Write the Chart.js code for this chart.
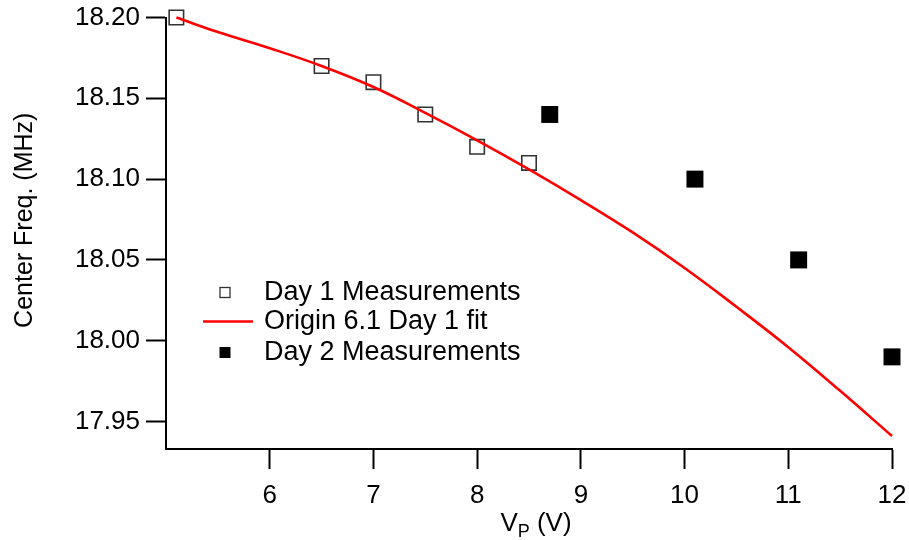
<!DOCTYPE html>
<html>
<head>
<meta charset="utf-8">
<script src="https://cdn.jsdelivr.net/npm/chart.js@4/dist/chart.umd.min.js"></script>
<style>
  html, body { margin: 0; padding: 0; background: #fff; }
  #wrap { width: 909px; height: 540px; position: relative; }
</style>
</head>
<body>
<div id="wrap"><canvas id="chart"></canvas></div>
<script>
// Day 1 measurements (open squares)
const day1X = [5.1, 6.5, 7.0, 7.5, 8.0, 8.5];
const day1Y = [18.20, 18.17, 18.16, 18.14, 18.12, 18.11];

// Day 2 measurements (filled squares)
const day2X = [8.7, 10.1, 11.1, 12.0];
const day2Y = [18.14, 18.10, 18.05, 17.99];

// Origin fit curve
const fitX = [5.1, 5.5, 6.0, 6.5, 7.0, 7.5, 8.0, 8.5, 9.0, 9.5, 10.0, 10.5, 11.0, 11.5, 12.0];
const fitY = [18.200, 18.191, 18.181, 18.170, 18.157, 18.141, 18.124, 18.106, 18.087, 18.067, 18.045, 18.021, 17.996, 17.969, 17.941];

const xTicks = [6, 7, 8, 9, 10, 11, 12];
const yTicks = [17.95, 18.00, 18.05, 18.10, 18.15, 18.20];

const yTitle = "Center Freq. (MHz)";

const FONT = '"Liberation Sans", Arial, Helvetica, sans-serif';

const toPoints = (xs, ys) => xs.map((x, i) => ({ x: x, y: ys[i] }));

// legend inside the plot, axis titles (x one has a subscript)
const extras = {
  id: "extras",
  afterDraw(chart) {
    const ctx = chart.ctx;
    const a = chart.chartArea;
    const ds = chart.data.datasets;
    ctx.save();

    // legend
    const lx = a.left + 59;
    const tx = a.left + 98;
    const rows = [a.top + 275, a.top + 304, a.top + 335];
    ctx.font = "27px " + FONT;
    ctx.fillStyle = "#000";
    ctx.textBaseline = "middle";
    ctx.textAlign = "left";

    ctx.strokeStyle = "#333";
    ctx.lineWidth = 1.3;
    ctx.strokeRect(lx - 5, rows[0] - 5, 10, 10);
    ctx.fillText(ds[1].label, tx, rows[0]);

    ctx.strokeStyle = "#ff0000";
    ctx.lineWidth = 2.5;
    ctx.beginPath();
    ctx.moveTo(lx - 22, rows[1]);
    ctx.lineTo(lx + 28, rows[1]);
    ctx.stroke();
    ctx.fillText(ds[0].label, tx, rows[1]);

    ctx.fillStyle = "#000";
    ctx.fillRect(lx - 5.5, rows[2] - 5.5, 11, 11);
    ctx.fillText(ds[2].label, tx, rows[2]);

    // y axis title
    ctx.save();
    ctx.translate(25, (a.top + a.bottom) / 2 - 13);
    ctx.rotate(-Math.PI / 2);
    ctx.textAlign = "center";
    ctx.textBaseline = "middle";
    ctx.font = "25px " + FONT;
    ctx.fillText(yTitle, 0, 0);
    ctx.restore();

    // x axis title: V_P (V)
    const cx = (a.left + a.right) / 2 + 7;
    const base = 531;
    ctx.textAlign = "left";
    ctx.textBaseline = "alphabetic";
    ctx.font = "26px " + FONT;
    const wV = ctx.measureText("V").width;
    const wRest = ctx.measureText(" (V)").width;
    ctx.font = "18px " + FONT;
    const wP = ctx.measureText("P").width;
    let x = cx - (wV + wP + wRest) / 2;
    ctx.font = "26px " + FONT;
    ctx.fillText("V", x, base);
    x += wV;
    ctx.font = "18px " + FONT;
    ctx.fillText("P", x, base + 6);
    x += wP;
    ctx.font = "26px " + FONT;
    ctx.fillText(" (V)", x, base);

    ctx.restore();
  },
};

const ctx = document.getElementById("chart").getContext("2d");

new Chart(ctx, {
  type: "scatter",
  data: {
    datasets: [
      {
        type: "line",
        label: "Origin 6.1 Day 1 fit",
        data: toPoints(fitX, fitY),
        borderColor: "#ff0000",
        borderWidth: 2.6,
        pointRadius: 0,
        fill: false,
        tension: 0.4,
        order: 0,
      },
      {
        label: "Day 1 Measurements",
        data: toPoints(day1X, day1Y),
        pointStyle: "rect",
        pointRadius: 10.2,
        pointHoverRadius: 10.2,
        borderColor: "#333",
        borderWidth: 1.6,
        backgroundColor: "rgba(0,0,0,0)",
        order: 1,
      },
      {
        label: "Day 2 Measurements",
        data: toPoints(day2X, day2Y),
        pointStyle: "rect",
        pointRadius: 12,
        pointHoverRadius: 12,
        borderWidth: 0,
        backgroundColor: "#000",
        order: 2,
      },
    ],
  },
  options: {
    responsive: true,
    maintainAspectRatio: false,
    animation: false,
    clip: false,
    layout: { padding: { left: 0, right: 17, top: 17.5, bottom: 0 } },
    plugins: {
      legend: { display: false },
      tooltip: { enabled: false },
    },
    events: [],
    scales: {
      x: {
        type: "linear",
        min: 5,
        max: 12,
        afterBuildTicks: (scale) => {
          scale.ticks = xTicks.map((v) => ({ value: v }));
        },
        afterFit: (scale) => {
          scale.height = 91;
          scale.paddingLeft = 0;
          scale.paddingRight = 0;
        },
        ticks: {
          color: "#000",
          font: { family: FONT, size: 26 },
          padding: 11,
          maxRotation: 0,
        },
        grid: {
          drawOnChartArea: false,
          tickLength: 20,
          tickWidth: 2,
          tickColor: "#000",
        },
        border: { color: "#000", width: 2 },
        title: { display: false },
      },
      y: {
        type: "linear",
        min: 17.933,
        max: 18.20,
        afterBuildTicks: (scale) => {
          scale.ticks = yTicks.map((v) => ({ value: v }));
        },
        afterFit: (scale) => {
          scale.width = 166;
          scale.paddingTop = 0;
          scale.paddingBottom = 0;
        },
        ticks: {
          color: "#000",
          font: { family: FONT, size: 26 },
          padding: 6,
          callback: (v) => Number(v).toFixed(2),
        },
        grid: {
          drawOnChartArea: false,
          tickLength: 20,
          tickWidth: 2,
          tickColor: "#000",
        },
        border: { color: "#000", width: 2 },
        title: { display: false },
      },
    },
  },
  plugins: [extras],
});
</script>
</body>
</html>
